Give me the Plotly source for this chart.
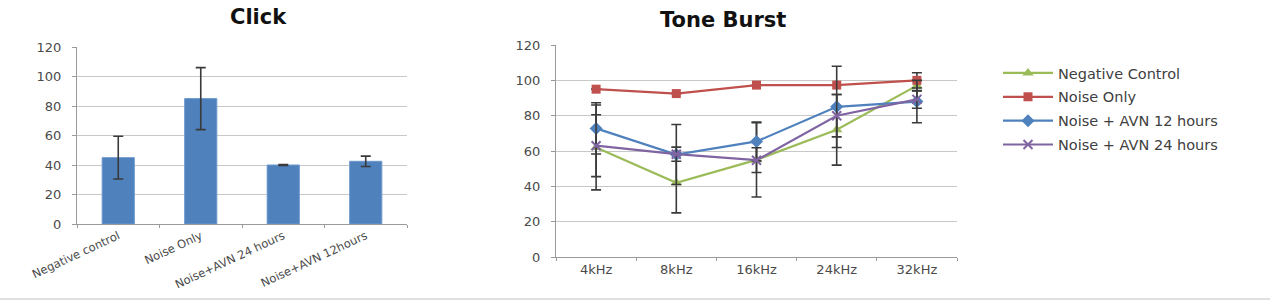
import plotly.graph_objects as go

# ---------------- data ----------------
click_categories = ["Negative control", "Noise Only", "Noise+AVN 24 hours", "Noise+AVN 12hours"]
click_values = [45, 85, 40, 42.5]
click_errors = [14.5, 21, 0.3, 3.5]

tone_categories = ["4kHz", "8kHz", "16kHz", "24kHz", "32kHz"]
neg_control = [62, 42, 55, 72, 97]
neg_control_err = [24, 17, 21, 20, 3]
noise_only = [95, 92.5, 97.3, 97.3, 100]
noise_only_err = [0, 0, 0, 0, 4.3]
avn12 = [72.8, 58, 65.4, 85, 88]
avn12_err = [14.5, 17, 11, 23, 12]
avn24 = [63, 58.2, 54.8, 80, 89.2]
avn24_err = [17.5, 4, 7, 12, 5]

y_ticks = [0, 20, 40, 60, 80, 100, 120]

W, H = 1270, 302
FONT = "DejaVu Sans"
TICK_COLOR = "#4a4a4a"
GRID = "#c8c8c8"
AXIS = "#9a9a9a"
ERR = "#3a3a3a"


def px_x(p):
    return p / W


def px_y(p):
    return 1 - p / H


fig = go.Figure()

fig.add_trace(go.Bar(
    x=click_categories, y=click_values,
    marker=dict(color="#4f81bd", line=dict(color="#6d98cc", width=1)),
    error_y=dict(type="data", array=click_errors, color=ERR, thickness=1.6, width=5),
    xaxis="x", yaxis="y", showlegend=False,
))

series = [
    ("Negative Control", neg_control, neg_control_err, "#9bbb59", "triangle-up", 10),
    ("Noise Only", noise_only, noise_only_err, "#c0504d", "square", 9),
    ("Noise + AVN 12 hours", avn12, avn12_err, "#4f81bd", "diamond", 10),
    ("Noise + AVN 24 hours", avn24, avn24_err, "#8064a2", "x-thin", 9),
]
for i, (name, vals, errs, col, sym, size) in enumerate(series):
    marker = dict(symbol=sym, size=size, color=col)
    if sym == "x-thin":
        marker["line"] = dict(color=col, width=2)
    fig.add_trace(go.Scatter(
        x=tone_categories, y=vals, name=name, mode="lines+markers",
        line=dict(color=col, width=2.2), marker=marker,
        error_y=dict(type="data", array=errs, color=ERR, thickness=1.6, width=5),
        xaxis="x2", yaxis="y2", legendgroup=f"g{i}",
    ))

tickfont = dict(family=FONT, size=13, color=TICK_COLOR)

fig.update_layout(
    width=W, height=H,
    margin=dict(l=0, r=0, t=0, b=0, autoexpand=False),
    paper_bgcolor="white", plot_bgcolor="white",
    bargap=0.61,
    font=dict(family=FONT, color=TICK_COLOR),
    xaxis=dict(
        domain=[px_x(77), px_x(407)], anchor="y", automargin=False,
        type="category", tickangle=-25,
        tickfont=dict(family=FONT, size=11.5, color=TICK_COLOR),
        showline=True, linecolor=AXIS, linewidth=1,
        ticks="outside", tickson="boundaries", ticklen=3, tickcolor=AXIS,
        showgrid=False, fixedrange=True,
    ),
    yaxis=dict(
        domain=[px_y(224), px_y(47)], anchor="x", automargin=False,
        range=[0, 120], tickvals=y_ticks,
        tickfont=tickfont,
        showline=True, linecolor=AXIS, linewidth=1,
        ticks="outside", ticklen=4, tickcolor=AXIS, ticklabelstandoff=8,
        showgrid=True, gridcolor=GRID, gridwidth=1, zeroline=False,
    ),
    xaxis2=dict(
        domain=[px_x(556), px_x(957)], anchor="y2", automargin=False,
        type="category", tickangle=0, range=[-0.5, 4.5],
        tickfont=tickfont,
        showline=True, linecolor=AXIS, linewidth=1,
        ticks="outside", tickson="boundaries", ticklen=3, tickcolor=AXIS,
        showgrid=False,
    ),
    yaxis2=dict(
        domain=[px_y(257), px_y(45)], anchor="x2", automargin=False,
        range=[0, 120], tickvals=y_ticks,
        tickfont=tickfont,
        showline=True, linecolor=AXIS, linewidth=1,
        ticks="outside", ticklen=4, tickcolor=AXIS, ticklabelstandoff=8,
        showgrid=True, gridcolor=GRID, gridwidth=1, zeroline=False,
    ),
    legend=dict(
        x=px_x(998), y=px_y(57), xanchor="left", yanchor="top",
        font=dict(family=FONT, size=14.5, color="#404040"),
        tracegroupgap=2, itemwidth=50, bgcolor="rgba(0,0,0,0)",
    ),
    annotations=[
        dict(text="<b>Click</b>", x=px_x(258), y=px_y(17), xref="paper", yref="paper",
             showarrow=False, font=dict(family=FONT, size=21, color="#111111"),
             xanchor="center", yanchor="middle"),
        dict(text="<b>Tone Burst</b>", x=px_x(723), y=px_y(20), xref="paper", yref="paper",
             showarrow=False, font=dict(family=FONT, size=21, color="#111111"),
             xanchor="center", yanchor="middle"),
    ],
    shapes=[
        dict(type="line", xref="paper", yref="paper", x0=0, x1=1,
             y0=px_y(299), y1=px_y(299), line=dict(color="#d6d6d6", width=1.5)),
    ],
)

fig.write_html("out.html")
